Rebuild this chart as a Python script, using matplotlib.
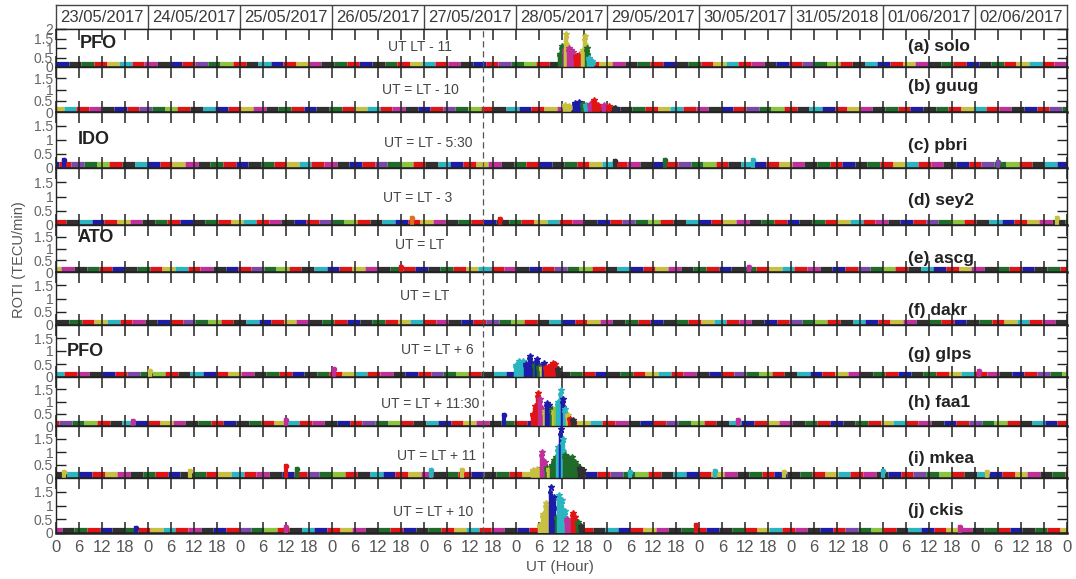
import matplotlib
matplotlib.use('Agg')
import matplotlib.pyplot as plt
import numpy as np

plt.rcParams['font.family'] = ['Liberation Sans', 'DejaVu Sans']

# ---------------- data ----------------
dates = ['23/05/2017', '24/05/2017', '25/05/2017', '26/05/2017', '27/05/2017',
         '28/05/2017', '29/05/2017', '30/05/2017', '31/05/2018', '01/06/2017',
         '02/06/2017']
stations = ['(a) solo', '(b) guug', '(c) pbri', '(d) sey2', '(e) ascg',
            '(f) dakr', '(g) glps', '(h) faa1', '(i) mkea', '(j) ckis']
ut_notes = ['UT LT - 11', 'UT = LT - 10', 'UT = LT - 5:30', 'UT = LT - 3',
            'UT = LT', 'UT = LT', 'UT = LT + 6', 'UT = LT + 11:30',
            'UT = LT + 11', 'UT = LT + 10']
sectors = ['PFO', 'IDO', 'ATO', 'PFO']
sector_panel = [0, 2, 4, 6]
x_tick_labels = ['0', '6', '12', '18'] * 11 + ['0']
ssc_hour = 111.6

# quiet-time ROTI level of each station (TECU/min)
base_roti = [0.08, 0.08, 0.09, 0.08, 0.08, 0.07, 0.08, 0.08, 0.10, 0.07]

# storm-time ROTI points: hour, value, colour index
solo_t = [131.6, 132.2, 132.8, 133.3, 133.9, 134.5, 135.1, 135.7, 136.3, 136.9, 137.5, 138.1, 138.7, 139.3, 139.9]
solo_v = [0.70, 1.10, 0.90, 1.75, 1.00, 0.90, 0.80, 0.60, 0.50, 0.70, 0.90, 1.65, 1.00, 0.45, 0.30]
solo_c = [3, 3, 6, 4, 6, 6, 6, 0, 0, 0, 4, 4, 3, 5, 5]

guug_t = [133.0, 134.0, 135.5, 136.5, 137.5, 138.5, 139.5, 140.5, 141.5, 143.0, 144.5, 146.0]
guug_v = [0.30, 0.25, 0.40, 0.45, 0.35, 0.30, 0.35, 0.55, 0.30, 0.30, 0.25, 0.20]
guug_c = [4, 4, 1, 1, 3, 5, 6, 0, 0, 6, 0, 2]

glps_t = [120.2, 120.8, 121.4, 122.0, 122.6, 123.2, 123.8, 124.4, 125.0, 125.6, 126.2, 126.8, 127.4, 128.0, 128.6, 129.2, 129.8, 130.4, 131.0]
glps_v = [0.45, 0.60, 0.55, 0.60, 0.50, 0.45, 0.80, 0.50, 0.45, 0.70, 0.40, 0.35, 0.55, 0.40, 0.35, 0.45, 0.55, 0.50, 0.30]
glps_c = [5, 5, 5, 5, 1, 1, 1, 1, 3, 1, 3, 4, 1, 0, 0, 0, 0, 0, 2]

faa1_t = [124.6, 125.2, 125.8, 126.4, 127.0, 127.6, 128.2, 128.8, 129.4, 130.0, 130.6, 131.2, 131.8, 132.4, 133.0, 133.6, 134.2, 135.0]
faa1_v = [0.50, 0.80, 1.35, 1.10, 0.70, 0.60, 0.95, 0.85, 0.70, 0.60, 0.75, 1.00, 1.45, 1.10, 0.70, 0.45, 0.30, 0.25]
faa1_c = [0, 0, 0, 6, 6, 4, 1, 1, 3, 4, 8, 5, 5, 1, 5, 4, 0, 2]

mkea_t = [124.6, 125.5, 126.4, 127.0, 127.6, 128.2, 128.8, 129.4, 130.0, 130.6, 131.2, 131.8, 132.4, 133.0, 133.6, 134.2, 134.8, 135.4, 136.0, 136.8, 137.5]
mkea_v = [0.30, 0.35, 0.30, 1.00, 0.60, 0.40, 0.35, 0.50, 0.70, 0.80, 1.20, 1.90, 1.50, 0.90, 0.80, 0.75, 0.80, 0.60, 0.50, 0.40, 0.30]
mkea_c = [4, 4, 4, 6, 6, 3, 4, 3, 3, 3, 5, 1, 5, 3, 3, 3, 3, 3, 3, 2, 2]

ckis_t = [126.5, 127.2, 127.9, 128.6, 129.3, 130.0, 130.7, 131.4, 132.1, 132.8, 133.5, 134.2, 134.9, 135.6, 136.3, 137.0]
ckis_v = [0.30, 0.70, 1.10, 0.90, 1.67, 1.30, 0.60, 1.38, 1.20, 0.80, 0.50, 0.40, 0.73, 0.60, 0.40, 0.25]
ckis_c = [4, 4, 4, 4, 1, 1, 3, 5, 5, 5, 6, 6, 0, 0, 3, 2]

# isolated quiet-time enhancements: hour, value, colour index
pbri_bump_t = [2.0, 146.0, 159.0, 182.0, 246.0]
pbri_bump_v = [0.30, 0.25, 0.30, 0.28, 0.22]
pbri_bump_c = [1, 2, 3, 5, 7]
sey2_bump_t = [93.0, 116.0, 261.5]
sey2_bump_v = [0.25, 0.20, 0.25]
sey2_bump_c = [9, 0, 4]
ascg_bump_t = [90.0, 181.0]
ascg_bump_v = [0.22, 0.20]
ascg_bump_c = [0, 6]
glps_bump_t = [24.5, 72.6, 241.0]
glps_bump_v = [0.25, 0.30, 0.25]
glps_bump_c = [4, 6, 6]
faa1_bump_t = [20.0, 60.0, 117.0, 178.0]
faa1_bump_v = [0.22, 0.25, 0.45, 0.25]
faa1_bump_c = [6, 6, 1, 6]
mkea_bump_t = [2.0, 35.0, 60.0, 63.0, 98.0, 106.0, 150.0, 172.0, 190.0, 216.0, 243.0]
mkea_bump_v = [0.25, 0.28, 0.45, 0.35, 0.30, 0.30, 0.25, 0.28, 0.25, 0.28, 0.25]
mkea_bump_c = [4, 4, 0, 3, 5, 4, 5, 5, 4, 5, 4]
ckis_bump_t = [21.0, 60.0, 167.0, 236.0]
ckis_bump_v = [0.20, 0.22, 0.30, 0.22]
ckis_bump_c = [1, 6, 0, 6]

storms = {0: (solo_t, solo_v, solo_c), 1: (guug_t, guug_v, guug_c),
          6: (glps_t, glps_v, glps_c), 7: (faa1_t, faa1_v, faa1_c),
          8: (mkea_t, mkea_v, mkea_c), 9: (ckis_t, ckis_v, ckis_c)}
bumps = {2: (pbri_bump_t, pbri_bump_v, pbri_bump_c),
         3: (sey2_bump_t, sey2_bump_v, sey2_bump_c),
         4: (ascg_bump_t, ascg_bump_v, ascg_bump_c),
         6: (glps_bump_t, glps_bump_v, glps_bump_c),
         7: (faa1_bump_t, faa1_bump_v, faa1_bump_c),
         8: (mkea_bump_t, mkea_bump_v, mkea_bump_c),
         9: (ckis_bump_t, ckis_bump_v, ckis_bump_c)}

# ---------------- style / layout ----------------
COLORS = ['#e01414', '#1c1ca8', '#303030', '#1f6b2a', '#c8c040',
          '#2bb5c0', '#c0309a', '#7a48a8', '#8cc43c', '#e07020']
SEQ = [0, 1, 2, 3, 0, 4, 5, 0, 6, 2, 1, 0, 7, 3, 8, 0, 2, 5, 1, 0, 4, 6, 2, 3]
ARC = 3.3

W, H = 1076, 579
fig = plt.figure(figsize=(W / 100, H / 100), dpi=100)
XL, XR = 56, 1067
edges = [29, 67, 112, 168, 225, 272, 325, 377, 426, 478, 533]
note_xy = [(420, 47), (420, 90), (428, 143), (418, 198), (420, 245),
           (425, 296), (437, 350), (430, 404), (437, 456), (433, 512)]
label_xy = [(908, 47), (908, 87), (908, 145), (908, 200), (908, 258),
            (908, 310), (908, 355), (908, 403), (908, 458), (908, 510)]
sector_xy = [(80, 44), (78, 140), (78, 238), (67, 352)]
TXT = '#3a3a3a'


def fx(x):
    return x / W


def fy(y):
    return 1 - y / H


# header with dates
axh = fig.add_axes([fx(XL), fy(29), fx(XR) - fx(XL), (29 - 5) / H])
axh.set_xlim(0, 264)
axh.set_ylim(0, 1)
axh.set_xticks([])
axh.set_yticks([])
for s in axh.spines.values():
    s.set_linewidth(1.0)
    s.set_color('#444444')
for d in range(1, 11):
    axh.axvline(d * 24, color='#444444', lw=1.0)
for d, lab in enumerate(dates):
    axh.text(d * 24 + 12, 0.47, lab, ha='center', va='center', fontsize=12, color=TXT)

axes = []
for i in range(10):
    top, bot = edges[i], edges[i + 1]
    ax = fig.add_axes([fx(XL), fy(bot), fx(XR) - fx(XL), (bot - top) / H])
    axes.append(ax)
    ax.set_xlim(0, 264)
    ax.set_ylim(0, 2)
    ax.set_axisbelow(False)

    # quiet-time band made of satellite arcs
    starts = np.arange(-(i * 1.3) % ARC - ARC, 264, ARC)
    for k, s0 in enumerate(starts):
        c = COLORS[SEQ[(k + 5 * i) % len(SEQ)]]
        ax.plot([s0, s0 + ARC], [base_roti[i], base_roti[i]], color=c, lw=5.2,
                solid_capstyle='butt', zorder=2)

    if i in bumps:
        t, v, cc = bumps[i]
        for tt, vv, ci in zip(t, v, cc):
            ax.plot([tt, tt], [0, vv], color=COLORS[ci], lw=3, zorder=3)
            ax.plot([tt], [vv], 'o', ms=3, color=COLORS[ci], zorder=3)
    if i in storms:
        t, v, cc = storms[i]
        for tt, vv, ci in zip(t, v, cc):
            ax.plot([tt, tt], [0, vv * 0.8], color=COLORS[ci], lw=3.2, zorder=3)
            ax.plot([tt], [vv], '*', ms=4.5, color=COLORS[ci], zorder=3)
            ax.plot([tt - 0.25, tt + 0.25], [vv * 0.9, vv * 0.7], 'o', ms=2.5,
                    color=COLORS[ci], zorder=3)

    ax.axvline(ssc_hour, color='#555555', lw=0.9, ls=(0, (5, 3)), zorder=4)

    ax.set_xticks(np.arange(0, 265, 6))
    ax.tick_params(axis='x', direction='in', length=8, width=1.1, top=True,
                   bottom=True, color='#222222')
    if i == 9:
        ax.set_xticklabels(x_tick_labels, fontsize=12, color='#555555')
        ax.tick_params(axis='x', pad=5)
    else:
        ax.set_xticklabels([])
    yt = [0, 0.5, 1, 1.5, 2] if i == 0 else [0, 0.5, 1, 1.5]
    ax.set_yticks(yt)
    ax.set_yticklabels([('%g' % y) for y in yt], fontsize=10, color='#666666')
    ax.tick_params(axis='y', direction='in', length=7, width=1.0, left=True,
                   right=True, pad=2, color='#222222')
    for name, s in ax.spines.items():
        s.set_color('#222222')
        s.set_linewidth(1.0)
    ax.spines['bottom'].set_linewidth(1.8)

    fig.text(fx(note_xy[i][0]), fy(note_xy[i][1]), ut_notes[i], ha='center',
             va='center', fontsize=10, color='#444444')
    fig.text(fx(label_xy[i][0]), fy(label_xy[i][1]), stations[i], ha='left',
             va='center', fontsize=12.5, color='#222222', fontweight='bold')

for (x, y), s in zip(sector_xy, sectors):
    fig.text(fx(x), fy(y), s, ha='left', va='center', fontsize=13,
             fontweight='bold', color='#222222')

fig.text(fx(19), fy(260), 'ROTI (TECU/min)', rotation=90, ha='center',
         va='center', fontsize=10.5, color='#555555')
fig.text(fx(560), fy(567), 'UT (Hour)', ha='center', va='center', fontsize=11,
         color='#555555')

fig.savefig('out.png', dpi=100)
